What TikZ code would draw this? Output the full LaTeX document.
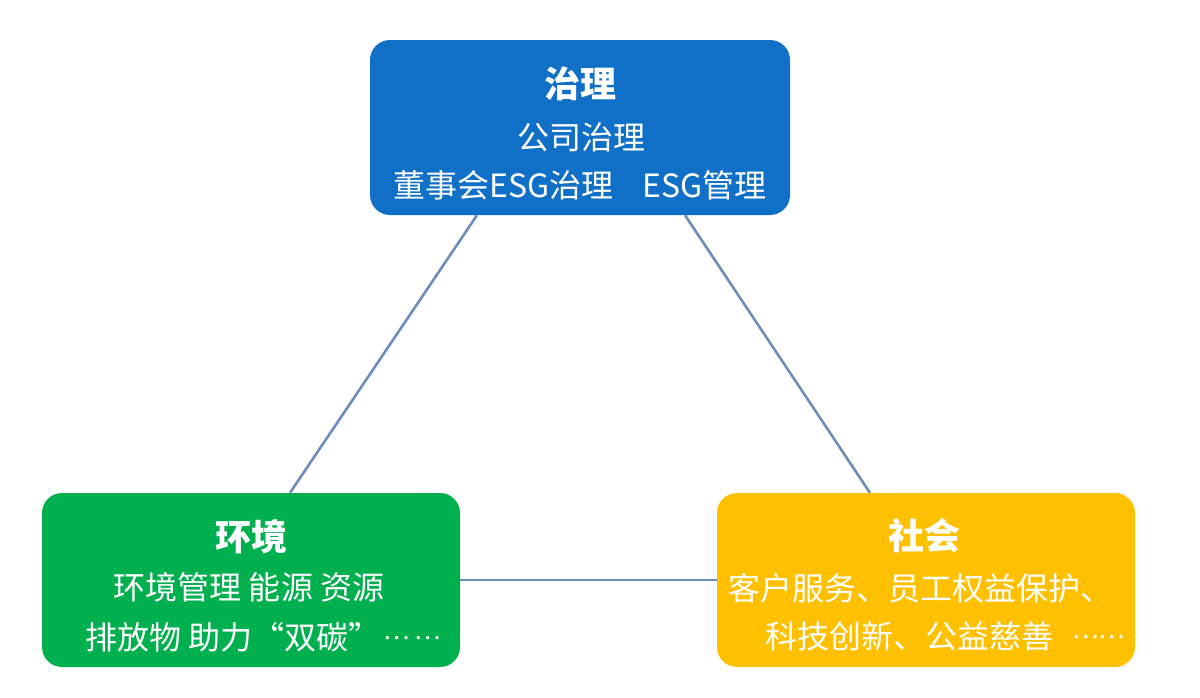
\documentclass[tikz,border=0pt]{standalone}
\usepackage{fontspec}
\newfontfamily\cjk{Noto Sans CJK SC}
\usetikzlibrary{backgrounds}
\definecolor{govblue}{HTML}{1070C8}
\definecolor{envgreen}{HTML}{00B04E}
\definecolor{socyellow}{HTML}{FFC000}
\definecolor{linkblue}{HTML}{6E8EBA}
\newcommand{\midell}{\raisebox{0.3em}{\fontsize{25}{25}\selectfont …}}
\tikzset{
  box/.style={rounded corners=20pt, minimum width=#1, minimum height=174pt, inner sep=0pt, draw=none},
  ttl/.style={anchor=base, text=white, font=\cjk\bfseries\fontsize{36}{40}\selectfont, inner sep=0pt},
  txt/.style={anchor=base, text=white, font=\cjk\fontsize{32}{36}\selectfont, inner sep=0pt},
  link/.style={draw=linkblue, line width=2.6pt}
}
\begin{document}
\begin{tikzpicture}[x=1pt,y=-1pt]
\useasboundingbox (0,0) rectangle (1200,697);
% boxes
\node[box=420pt, fill=govblue, minimum height=175pt] (gov) at (580,127.5) {};
\node[box=418pt, fill=envgreen] (env) at (251,580) {};
\node[box=418pt, fill=socyellow] (soc) at (926,580) {};
% connectors behind boxes
\begin{scope}[on background layer]
\fill[white] (0,0) rectangle (1200,697);
\draw[link] ([xshift=-103pt]gov.south) -- ([xshift=39pt]env.north);
\draw[link] ([xshift=105pt]gov.south) -- ([xshift=-56pt]soc.north);
\draw[link] (env.east) -- (soc.west);
\end{scope}
% governance texts
\node[ttl] (govt) at (580,97) {治理};
\node[txt] (gov1) at (581,149) {公司治理};
\node[txt] (gov2) at (580,197) {董事会ESG治理\hspace{0.9em}ESG管理};
% environment texts
\node[ttl] (envt) at (251,550) {环境};
\node[txt] (env1) at (249,599) {环境管理 能源 资源};
\node[txt, anchor=base west] (env2) at (85,649) {排放物 助力“双碳”\hspace{0.1em}\midell\hspace{0.15em}\midell};
% society texts
\node[ttl] (soct) at (924,549) {社会};
\node[txt, anchor=base west] (soc1) at (728,600) {客户服务、员工权益保护、};
\node[txt, anchor=base west] (soc2) at (765,648) {科技创新、公益慈善\hspace{0.6em}\midell\midell};
\end{tikzpicture}
\end{document}
